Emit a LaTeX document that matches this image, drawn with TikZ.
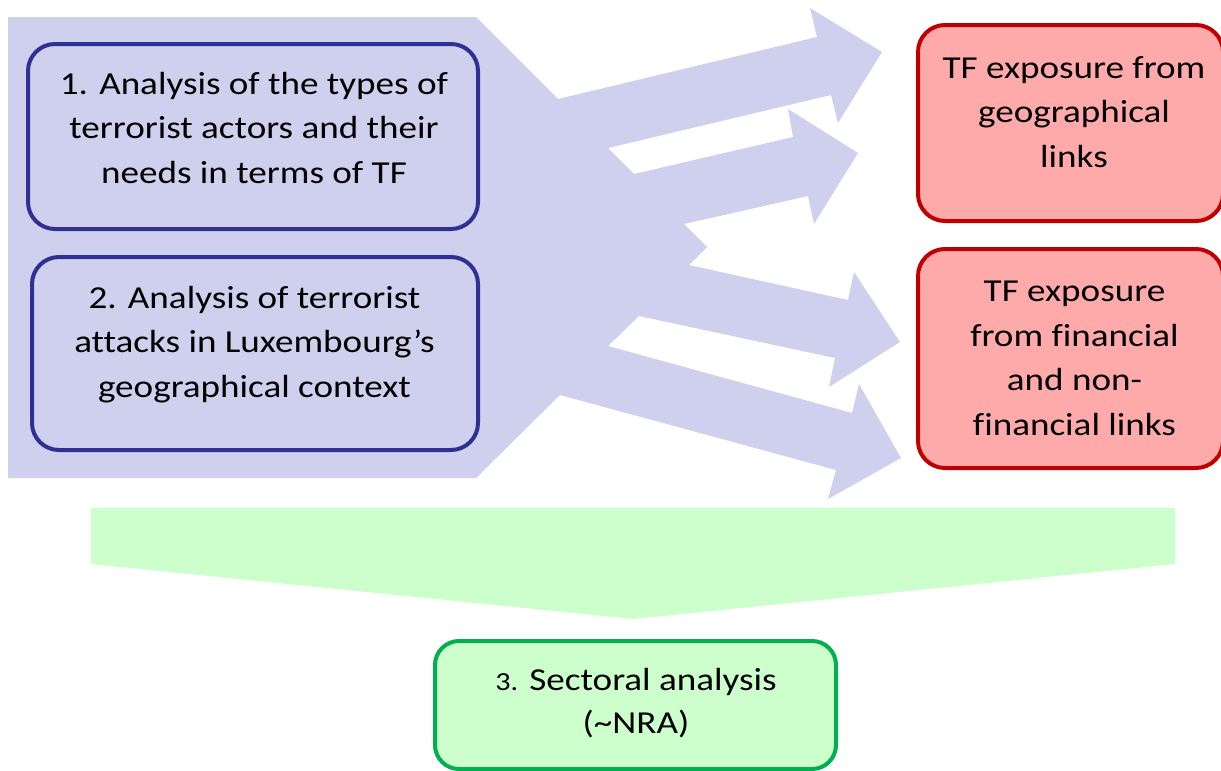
\documentclass[tikz,border=0pt]{standalone}
\usepackage{fontspec}
\setmainfont[FakeStretch=1.16,Ligatures=NoCommon]{Carlito}
\definecolor{bluebg}{HTML}{CFCFEE}
\definecolor{blueline}{HTML}{2E3192}
\definecolor{redfill}{HTML}{FFAAAA}
\definecolor{redline}{HTML}{C00000}
\definecolor{greenfill}{HTML}{CCFFCC}
\definecolor{greenline}{HTML}{00B050}
\begin{document}
\begin{tikzpicture}[x=1pt,y=-1pt,
  box/.style={rectangle,rounded corners=27pt,line width=4pt,inner sep=0pt},
  bluebox/.style={box,draw=blueline,fill=bluebg},
  redbox/.style={box,draw=redline,fill=redfill},
  greenbox/.style={box,draw=greenline,fill=greenfill,rounded corners=24pt},
  label/.style={align=center,inner sep=0pt,font=\fontsize{32}{44.5}\selectfont}]
\useasboundingbox (0,0) rectangle (1221,771);
% blue background with arrows
\fill[bluebg] (8,17) -- (476,17) -- (558,99) -- (817,37) -- (810,8) -- (882,52)
  -- (838,123) -- (831,95) -- (608,148) -- (634,174) -- (793,137) -- (788,109)
  -- (858,153) -- (814,224) -- (808,196) -- (684,224) -- (707,247) -- (689,265)
  -- (848,300) -- (854,272) -- (900,342) -- (829,387) -- (835,358) -- (639,316)
  -- (608,346) -- (852,413) -- (859,384) -- (901,458) -- (828,499) -- (836,470)
  -- (560,395) -- (476,478) -- (8,478) -- cycle;
% green down arrow
\fill[greenfill] (91,508) -- (1175,508) -- (1175,564) -- (633,619) -- (91,564) -- cycle;
% boxes
\node[bluebox,minimum width=450pt,minimum height=185pt] (b1) at (253,136.5) {};
\node[bluebox,minimum width=446pt,minimum height=193pt] (b2) at (255,353.5) {};
\node[redbox,minimum width=305pt,minimum height=196pt] (r1) at (1070.5,123) {};
\node[redbox,minimum width=305pt,minimum height=219pt] (r2) at (1070.5,358.5) {};
\node[greenbox,minimum width=401pt,minimum height=128pt] (g1) at (635.5,705) {};
% texts
\node[label] (t1) at (254,129.6) {\strut 1. Analysis of the types of\\\strut terrorist actors and their\\\strut needs in terms of TF};
\node[label] (t2) at (254.5,344) {\strut 2. Analysis of terrorist\\\strut attacks in Luxembourg’s\\\strut geographical context};
\node[label] (t3) at (1074,113.6) {\strut TF exposure from\\\strut geographical\\\strut links};
\node[label] (t4) at (1074.5,359.6) {\strut TF exposure\\\strut from financial\\\strut and non-\\\strut financial links};
\node[label,font=\fontsize{32}{43}\selectfont] (t5) at (636,703.5) {\strut{\fontsize{26}{43}\selectfont 3.} Sectoral analysis\\\strut (\textasciitilde NRA)};
\end{tikzpicture}
\end{document}
